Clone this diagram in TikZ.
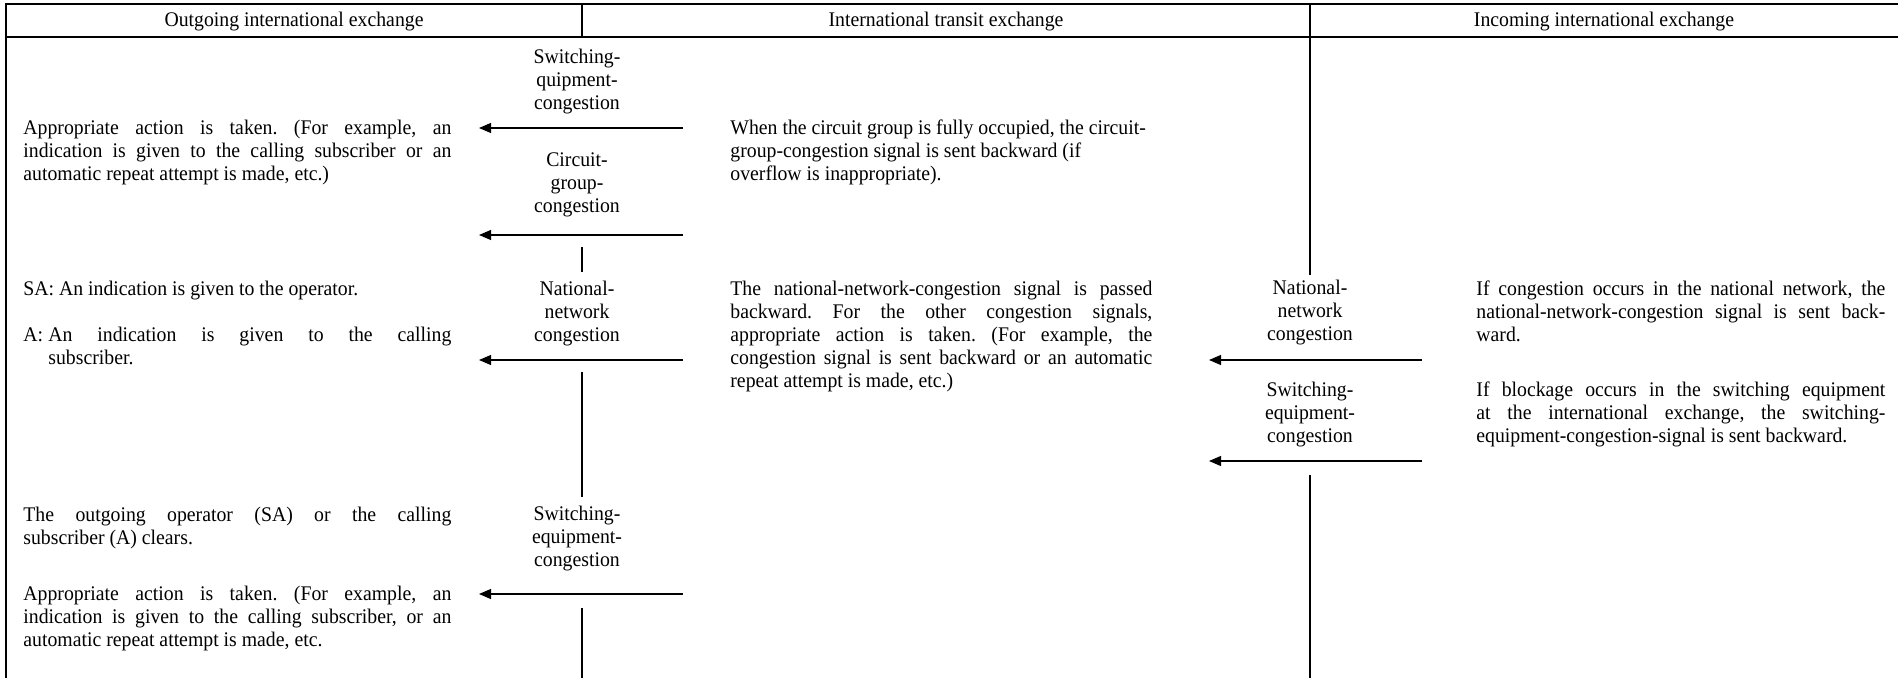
\documentclass[tikz,border=0pt]{standalone}
\usepackage{fontspec}
\setmainfont{Liberation Serif}[FakeStretch=0.95]
\usetikzlibrary{arrows.meta}
\frenchspacing
\newcommand\fs{\fontsize{10.4}{11.5}\selectfont\frenchspacing}
\newcommand\stt{\rule[-3.5pt]{0pt}{11.5pt}}
\newcommand\jl[2]{\makebox[#1][s]{\stt#2}}
\newcommand\pl[1]{\stt#1}
\tikzset{
  frame/.style={line width=1pt},
  life/.style={line width=1.1pt},
  msg/.style={line width=0.55pt,-{Triangle[length=6pt,width=5pt]}},
  hdr/.style={font=\fs,inner sep=0pt,anchor=base},
  lbl/.style={font=\fs,align=center,inner sep=0pt,anchor=north},
  txt/.style={font=\fs,align=left,inner sep=0pt,anchor=north west},
}
\begin{document}
\begin{tikzpicture}[x=0.5pt,y=-0.5pt]
\useasboundingbox (0,0) rectangle (1898,678);
% frame
\draw[frame] (1898,4) -- (6,4) -- (6,678);
\draw[frame] (6,37) -- (1898,37);
\draw[frame] (582,4) -- (582,37);
\node[hdr] (h1) at (294,27) {Outgoing international exchange};
\node[hdr] (h2) at (946,27) {International transit exchange};
\node[hdr] (h3) at (1604,27) {Incoming international exchange};
% left lifeline (outgoing/transit boundary)
\coordinate (la1) at (582,247); \coordinate (lb1) at (582,272);
\coordinate (la2) at (582,372); \coordinate (lb2) at (582,497);
\coordinate (la3) at (582,608); \coordinate (lb3) at (582,678);
\draw[life] (la1) -- (lb1);
\draw[life] (la2) -- (lb2);
\draw[life] (la3) -- (lb3);
% right lifeline
\coordinate (ra0) at (1310,4); \coordinate (rb1) at (1310,275);
\coordinate (ra2) at (1310,475); \coordinate (rb2) at (1310,678);
\draw[frame] (ra0) -- (rb1);
\draw[life] (ra2) -- (rb2);
% left labels
\node[lbl] (l1) at (577,47) {\pl{Switching-}\\\pl{quipment-}\\\pl{congestion}};
\node[lbl] (l2) at (577,150) {\pl{Circuit-}\\\pl{group-}\\\pl{congestion}};
\node[lbl] (l3) at (577,279) {\pl{National-}\\\pl{network}\\\pl{congestion}};
\node[lbl] (l4) at (577,504) {\pl{Switching-}\\\pl{equipment-}\\\pl{congestion}};
% right labels
\node[lbl] (r1) at (1310,278) {\pl{National-}\\\pl{network}\\\pl{congestion}};
\node[lbl] (r2) at (1310,380) {\pl{Switching-}\\\pl{equipment-}\\\pl{congestion}};
% arrows
\coordinate (a1s) at (683,128); \coordinate (a1e) at (479,128);
\coordinate (a2s) at (683,235); \coordinate (a2e) at (479,235);
\coordinate (a3s) at (683,360); \coordinate (a3e) at (479,360);
\coordinate (a4s) at (683,594); \coordinate (a4e) at (479,594);
\coordinate (b1s) at (1422,360); \coordinate (b1e) at (1209,360);
\coordinate (b2s) at (1422,461); \coordinate (b2e) at (1209,461);
\draw[msg] (a1s) -- (a1e);
\draw[msg] (a2s) -- (a2e);
\draw[msg] (a3s) -- (a3e);
\draw[msg] (a4s) -- (a4e);
\draw[msg] (b1s) -- (b1e);
\draw[msg] (b2s) -- (b2e);
% left column texts
\node[txt] (t1) at (23,118) {\jl{214pt}{Appropriate action is taken. (For example, an}\\
  \jl{214pt}{indication is given to the calling subscriber or an}\\
  \pl{automatic repeat attempt is made, etc.)}};
\node[txt] (t2) at (23,279) {\pl{SA: An indication is given to the operator.}};
\node[txt] (t3) at (23,325) {\makebox[12.5pt][l]{\stt A:}\jl{201.5pt}{An indication is given to the calling}\\
  \hspace*{12.5pt}\pl{subscriber.}};
\node[txt] (t4) at (23,505) {\jl{214pt}{The outgoing operator (SA) or the calling}\\
  \pl{subscriber (A) clears.}};
\node[txt] (t5) at (23,584) {\jl{214pt}{Appropriate action is taken. (For example, an}\\
  \jl{214pt}{indication is given to the calling subscriber, or an}\\
  \pl{automatic repeat attempt is made, etc.}};
% middle column texts
\node[txt] (m1) at (730,118) {\pl{When the circuit group is fully occupied, the circuit-}\\
  \pl{group-congestion signal is sent backward (if}\\
  \pl{overflow is inappropriate).}};
\node[txt] (m2) at (730,279) {\jl{211pt}{The national-network-congestion signal is passed}\\
  \jl{211pt}{backward. For the other congestion signals,}\\
  \jl{211pt}{appropriate action is taken. (For example, the}\\
  \jl{211pt}{congestion signal is sent backward or an automatic}\\
  \pl{repeat attempt is made, etc.)}};
% right column texts
\node[txt] (n1) at (1476,279) {\jl{204.5pt}{If congestion occurs in the national network, the}\\
  \jl{204.5pt}{national-network-congestion signal is sent back-}\\
  \pl{ward.}};
\node[txt] (n2) at (1476,380) {\jl{204.5pt}{If blockage occurs in the switching equipment}\\
  \jl{204.5pt}{at the international exchange, the switching-}\\
  \pl{equipment-congestion-signal is sent backward.}};
\end{tikzpicture}
\end{document}
